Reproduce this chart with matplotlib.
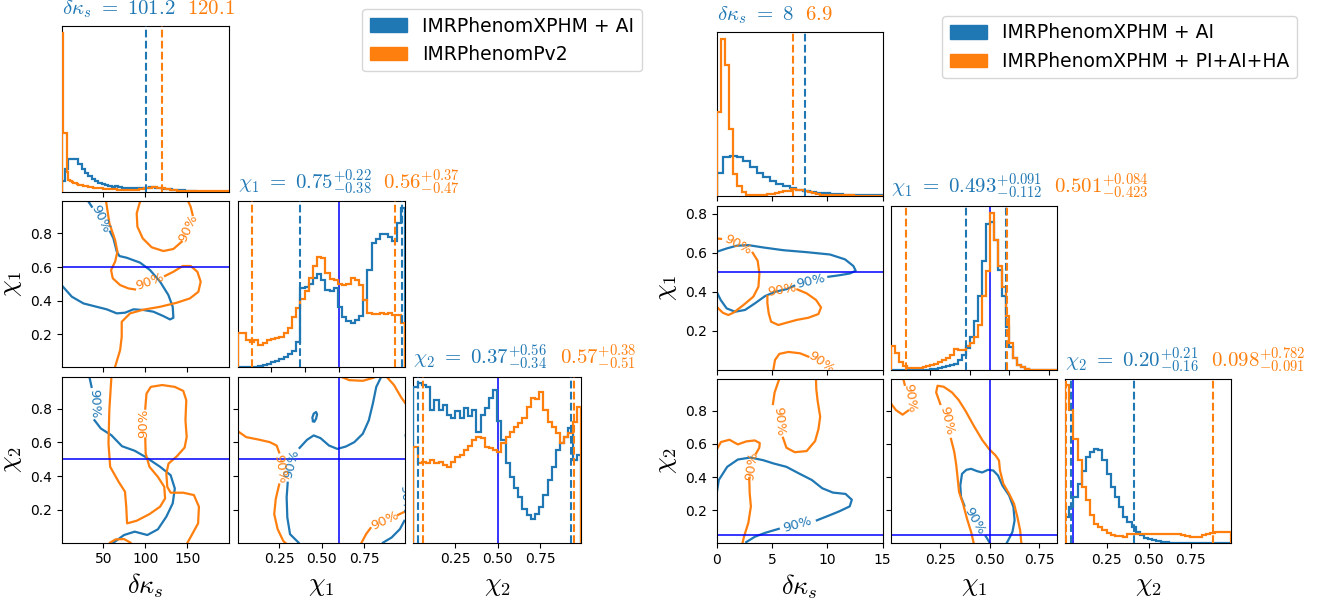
import matplotlib.pyplot as plt
from matplotlib.patches import Patch
from matplotlib.transforms import offset_copy
import numpy as np

plt.rcParams['mathtext.fontset'] = 'cm'

W, H = 1320, 600
C_BLUE, C_ORANGE, C_TRUTH = '#1f77b4', '#ff7f0e', 'blue'

names = [r'\delta\kappa_s', r'\chi_1', r'\chi_2']

# ---------------- left corner: XPHM + AI vs Pv2 ----------------
L_labels = ['IMRPhenomXPHM + AI', 'IMRPhenomPv2']
L_ranges = [(0, 200), (0.005, 0.99), (0.005, 0.99)]
L_truths = [0, 0.6, 0.5]
L_summary = [('101.2', '120.1'),
             (('0.75', '0.22', '0.38'), ('0.56', '0.37', '0.47')),
             (('0.37', '0.56', '0.34'), ('0.57', '0.38', '0.51'))]

L_dk_blue = [0.066, 0.136, 0.196, 0.2, 0.196, 0.166, 0.136, 0.116, 0.096, 0.076,
             0.066, 0.056, 0.046, 0.04, 0.036, 0.032, 0.036, 0.032, 0.026, 0.024,
             0.024, 0.022, 0.024, 0.024, 0.026, 0.026, 0.028, 0.03, 0.026, 0.022,
             0.02, 0.018, 0.016, 0.014, 0.012, 0.012, 0.01, 0.008, 0.006, 0.004,
             0.002, 0.002, 0.001, 0.001, 0.001, 0.001, 0, 0, 0, 0]
L_dk_orange = [0.956, 0.357, 0.357, 0.12, 0.075, 0.066, 0.06, 0.056, 0.052, 0.048,
               0.045, 0.042, 0.04, 0.038, 0.036, 0.034, 0.032, 0.03, 0.028, 0.027,
               0.026, 0.025, 0.024, 0.023, 0.022, 0.021, 0.02, 0.019, 0.018, 0.018,
               0.017, 0.016, 0.016, 0.015, 0.015, 0.014, 0.014, 0.013, 0.013, 0.013,
               0.012, 0.012, 0.012, 0.013, 0.014, 0.015, 0.016, 0.018, 0.02, 0.022,
               0.024, 0.025, 0.026, 0.027, 0.028, 0.028, 0.028, 0.027, 0.026, 0.025,
               0.024, 0.022, 0.02, 0.018, 0.016, 0.014, 0.012, 0.011, 0.01, 0.009,
               0.008, 0.008, 0.007, 0.007, 0.007, 0.006, 0.006, 0.006, 0.006, 0.005,
               0.005, 0.005, 0.005, 0.005, 0.005, 0.005, 0.005, 0.005, 0.005, 0.005,
               0.004, 0.004, 0.004, 0.004, 0.004, 0.004, 0.004, 0.004, 0.004, 0.004]
L_chi1_blue = [0, 0, 0, 0, 0.002, 0.006, 0.012, 0.02, 0.03, 0.038,
               0.048, 0.06, 0.078, 0.1, 0.155, 0.477, 0.483, 0.503, 0.537, 0.563,
               0.523, 0.467, 0.457, 0.477, 0.366, 0.306, 0.276, 0.266, 0.282, 0.31,
               0.406, 0.588, 0.748, 0.773, 0.805, 0.805, 0.785, 0.759, 0.87, 0.96]
L_chi1_orange = [0.209, 0.205, 0.165, 0.155, 0.165, 0.135, 0.149, 0.165, 0.169, 0.175,
                 0.185, 0.205, 0.235, 0.306, 0.356, 0.41, 0.457, 0.537, 0.612, 0.664,
                 0.658, 0.567, 0.531, 0.523, 0.503, 0.497, 0.503, 0.537, 0.523, 0.497,
                 0.406, 0.33, 0.322, 0.322, 0.33, 0.322, 0.326, 0.316, 0.316, 0.266]
L_chi2_blue = [0.94, 0.96, 0.95, 0.94, 0.8, 0.86, 0.8, 0.83, 0.77, 0.75,
               0.79, 0.75, 0.81, 0.76, 0.8, 0.668, 0.77, 0.81, 0.87, 0.92,
               0.73, 0.62, 0.477, 0.396, 0.326, 0.276, 0.205, 0.165, 0.145, 0.175,
               0.215, 0.286, 0.376, 0.457, 0.557, 0.598, 0.638, 0.688, 0.5, 0.53]
L_chi2_orange = [0.577, 0.477, 0.487, 0.48, 0.497, 0.48, 0.487, 0.467, 0.457, 0.487,
                 0.513, 0.527, 0.557, 0.58, 0.618, 0.638, 0.628, 0.573, 0.567, 0.557,
                 0.547, 0.598, 0.638, 0.668, 0.694, 0.718, 0.748, 0.819, 0.87, 0.863,
                 0.909, 0.8, 0.728, 0.694, 0.658, 0.598, 0.638, 0.658, 0.728, 0.819]

# 90% credible contours, split where the inline labels sit
L_dk_chi1_blue = [
    [(32.2, 0.988), (36.2, 0.958)],
    [(58, 0.81), (62, 0.77), (66, 0.691), (69.2, 0.665), (77.9, 0.655), (93.8, 0.626),
     (105.7, 0.582), (117.7, 0.513), (127.6, 0.434), (132.8, 0.364), (133.6, 0.299),
     (129.6, 0.289), (121.6, 0.309), (109.7, 0.335), (97.8, 0.345), (85.9, 0.349),
     (75.9, 0.329), (66, 0.325), (54, 0.349), (42, 0.364), (26.2, 0.384), (12.3, 0.424),
     (0, 0.493)]]
L_dk_chi1_blue_lbl = [(47, 0.885, -65)]
L_dk_chi1_orange = [
    [(93.8, 0.988), (89.8, 0.919), (90.6, 0.84), (97, 0.77), (107.7, 0.717), (121.6, 0.695),
     (133.6, 0.707), (143.5, 0.75)],
    [(156.6, 0.909), (154.2, 0.958), (151.4, 0.988)],
    [(53.3, 0.988), (57.2, 0.859), (64, 0.76), (66.8, 0.691), (64, 0.632), (59.2, 0.582),
     (61.2, 0.533), (70, 0.493), (79.9, 0.473), (87.8, 0.467)],
    [(123.6, 0.547), (133.6, 0.572), (144.7, 0.606), (154.2, 0.606), (162.2, 0.572),
     (166.2, 0.513), (163.4, 0.453), (153.4, 0.414), (137.5, 0.388), (117.7, 0.364),
     (97.8, 0.347), (81.9, 0.325), (71.9, 0.275), (71.9, 0.186), (70, 0.107), (64, 0.008)]]
L_dk_chi1_orange_lbl = [(151, 0.83, 65), (105.7, 0.512, 20)]

L_dk_chi2_blue = [
    [(33.3, 0.988), (35.9, 0.929)],
    [(39.4, 0.731), (47, 0.682), (59.6, 0.642), (72.2, 0.577), (87.4, 0.55), (100, 0.514),
     (117.7, 0.455), (130.3, 0.405), (135.3, 0.326), (132.8, 0.238), (125.2, 0.159),
     (115.1, 0.084), (102.5, 0.05), (87.4, 0.07), (74.7, 0.05), (62.1, 0.005)]]
L_dk_chi2_blue_lbl = [(38.5, 0.83, -88)]
L_dk_chi2_orange = [
    [(59.6, 0.988), (57.1, 0.79), (56.1, 0.593), (58.1, 0.455), (68.2, 0.366), (75.8, 0.307),
     (77.3, 0.218), (78.3, 0.119), (89.9, 0.135), (105, 0.174), (117.7, 0.218),
     (123.7, 0.267), (122.7, 0.336), (115.1, 0.395), (105, 0.455), (100.5, 0.534),
     (100, 0.623)],
    [(100, 0.8), (101.5, 0.889), (106.6, 0.929), (120.2, 0.94), (135.3, 0.929),
     (145.4, 0.905), (149, 0.85), (148, 0.731), (149.5, 0.632), (147, 0.569), (137.9, 0.518),
     (127.8, 0.474), (125.2, 0.415), (126.3, 0.336), (130.3, 0.301), (145.4, 0.301),
     (158.1, 0.287), (164.1, 0.218), (163.1, 0.119), (155.5, 0.05), (150.5, 0.005)],
    [(58.1, 0.005), (64.6, 0.024), (74.7, 0.026), (82.3, 0.005)]]
L_dk_chi2_orange_lbl = [(98, 0.712, 90)]

L_chi1_chi2_blue = [
    [(0.364, 0.005), (0.314, 0.055), (0.298, 0.154), (0.294, 0.273), (0.3, 0.36)],
    [(0.37, 0.567), (0.414, 0.615), (0.453, 0.641), (0.493, 0.625), (0.543, 0.581),
     (0.592, 0.561), (0.642, 0.575), (0.692, 0.601), (0.742, 0.651), (0.777, 0.73),
     (0.801, 0.83), (0.821, 0.929), (0.851, 0.99)],
    [(0.449, 0.726), (0.445, 0.746), (0.453, 0.77), (0.467, 0.78), (0.473, 0.766),
     (0.467, 0.74), (0.457, 0.722), (0.449, 0.726)],
    [(0.861, 0.005), (0.911, 0.035), (0.96, 0.085), (0.986, 0.134)],
    [(0.994, 0.641), (1.0, 0.611)]]
L_chi1_chi2_blue_lbl = [(0.322, 0.47, 75), (0.99, 0.26, -85)]
L_chi1_chi2_orange = [
    [(0.0, 0.671), (0.056, 0.631), (0.135, 0.615), (0.195, 0.601), (0.235, 0.581),
     (0.25, 0.54)],
    [(0.25, 0.35), (0.23, 0.264), (0.221, 0.174), (0.241, 0.085), (0.274, 0.015),
     (0.29, 0.0)],
    [(0.612, 0.99), (0.662, 0.969), (0.742, 0.965), (0.801, 0.982), (0.821, 0.99)],
    [(0.881, 0.99), (0.926, 0.939), (0.966, 0.869), (1.0, 0.82)],
    [(0.732, 0.0), (0.761, 0.055), (0.787, 0.091)],
    [(0.95, 0.17), (1.0, 0.194)]]
L_chi1_chi2_orange_lbl = [(0.258, 0.44, -80), (0.871, 0.134, 25)]

L_ticks = [[50, 100, 150], [0.2, 0.4, 0.6, 0.8], [0.2, 0.4, 0.6, 0.8]]
L_bottom = [[50, 100, 150], [0.25, 0.5, 0.75], [0.25, 0.5, 0.75]]
L_bottom_txt = [['50', '100', '150'], ['0.25', '0.50', '0.75'], ['0.25', '0.50', '0.75']]

# ---------------- right corner: XPHM + AI vs XPHM + PI+AI+HA ----------------
R_labels = ['IMRPhenomXPHM + AI', 'IMRPhenomXPHM + PI+AI+HA']
R_ranges = [(0, 15), (0, 0.84), (0.003, 0.99)]
R_truths = [0, 0.5, 0.05]
R_summary = [('8', '6.9'),
             (('0.493', '0.091', '0.112'), ('0.501', '0.084', '0.423')),
             (('0.20', '0.21', '0.16'), ('0.098', '0.782', '0.091'))]

R_dk_blue = [0.141, 0.239, 0.243, 0.239, 0.214, 0.178, 0.141, 0.116, 0.096, 0.076,
             0.061, 0.049, 0.041, 0.035, 0.027, 0.02, 0.018, 0.014, 0.012, 0.01,
             0.008, 0.006, 0.006, 0.006, 0.006]
R_dk_orange = [0.514, 0.957, 0.8, 0.41, 0.137, 0.06, 0.024, 0.008, 0.008, 0.008,
               0.008, 0.008, 0.012, 0.016, 0.022, 0.026, 0.03, 0.034, 0.043, 0.04,
               0.036, 0.03, 0.024, 0.018, 0.014, 0.01, 0.008, 0.007, 0.006, 0.006,
               0.005, 0.005, 0.005, 0.004, 0.004, 0.004, 0.004, 0.004, 0.004, 0.004]
R_chi1_blue = [0, 0, 0, 0, 0, 0, 0, 0, 0, 0,
               0.006, 0.006, 0.01, 0.014, 0.02, 0.026, 0.036, 0.06, 0.09, 0.13,
               0.2, 0.3, 0.45, 0.66, 0.89, 0.9, 0.79, 0.61, 0.45, 0.26,
               0.14, 0.07, 0.03, 0.014, 0.006, 0, 0, 0, 0, 0, 0, 0]
R_chi1_orange = [0.142, 0.1, 0.05, 0.02, 0.01, 0.01, 0.01, 0.01, 0.014, 0.02,
                 0.026, 0.036, 0.045, 0.057, 0.069, 0.091, 0.126, 0.118, 0.122, 0.142,
                 0.16, 0.2, 0.27, 0.45, 0.6, 0.957, 0.79, 0.63, 0.507, 0.325,
                 0.162, 0.071, 0.03, 0.014, 0.006, 0, 0, 0, 0, 0, 0, 0]
R_chi2_blue = [0.159, 0.22, 0.28, 0.36, 0.44, 0.525, 0.556, 0.576, 0.566, 0.505,
               0.424, 0.342, 0.28, 0.22, 0.159, 0.128, 0.098, 0.067, 0.047, 0.033,
               0.022, 0.016, 0.012, 0.008, 0.006, 0.002, 0.002, 0, 0, 0,
               0, 0, 0, 0, 0, 0, 0, 0, 0, 0]
R_chi2_orange = [0.963, 0.81, 0.637, 0.505, 0.342, 0.26, 0.169, 0.118, 0.098, 0.077,
                 0.061, 0.047, 0.043, 0.041, 0.037, 0.057, 0.057, 0.053, 0.053, 0.053,
                 0.053, 0.053, 0.053, 0.053, 0.053, 0.053, 0.053, 0.053, 0.05, 0.045,
                 0.04, 0.037, 0.037, 0.047, 0.057, 0.061, 0.067, 0.067, 0.067, 0.067]

R_dk_chi1_blue = [
    [(0, 0.604), (0.904, 0.621), (1.807, 0.635), (2.861, 0.638), (4.217, 0.626),
     (6.024, 0.612), (8.132, 0.602), (10.24, 0.59), (11.6, 0.565), (12.35, 0.531),
     (12.56, 0.507), (12.05, 0.493), (10.99, 0.483), (10.09, 0.476)],
    [(7.0, 0.43), (6.33, 0.413), (5.27, 0.399), (4.37, 0.377), (3.46, 0.34), (2.56, 0.306),
     (1.66, 0.297), (0.9, 0.314), (0.36, 0.357), (0, 0.399)]]
R_dk_chi1_blue_lbl = [(8.5, 0.455, 13)]
R_dk_chi1_orange = [
    [(0, 0.672), (0.39, 0.67)],
    [(3.25, 0.599), (3.7, 0.558), (3.86, 0.493), (3.77, 0.425), (3.31, 0.374), (2.41, 0.331),
     (1.51, 0.292), (1.05, 0.28), (0.54, 0.292), (0.15, 0.314), (0, 0.323)],
    [(7.29, 0.411), (8.13, 0.391), (8.98, 0.357), (9.43, 0.319), (9.19, 0.285),
     (8.28, 0.266), (7.23, 0.255), (6.33, 0.241), (5.57, 0.229), (4.91, 0.246), (4.7, 0.289),
     (4.58, 0.34), (4.58, 0.377)],
    [(5.12, 0.0), (5.27, 0.05), (5.66, 0.081), (6.48, 0.091), (7.53, 0.084), (8.28, 0.067)]]
R_dk_chi1_orange_lbl = [(1.9, 0.642, -28), (5.9, 0.41, 10), (9.4, 0.036, -35)]

R_dk_chi2_blue = [
    [(0, 0.303), (0.19, 0.383), (0.95, 0.462), (1.91, 0.506), (3.05, 0.518), (4.2, 0.502),
     (5.15, 0.482), (6.3, 0.462), (7.44, 0.422), (8.59, 0.383), (9.54, 0.333), (10.5, 0.307),
     (11.64, 0.299), (12.21, 0.264), (12.02, 0.224), (11.07, 0.194), (10.11, 0.168),
     (9.05, 0.14)],
    [(5.61, 0.089), (4.39, 0.065), (3.44, 0.041), (2.67, 0.009)]]
R_dk_chi2_blue_lbl = [(7.3, 0.116, 16)]
R_dk_chi2_orange = [
    [(0, 0.565), (0.38, 0.611), (1.15, 0.625), (1.91, 0.597), (2.67, 0.615), (3.44, 0.621),
     (3.89, 0.605), (3.85, 0.577), (3.55, 0.542)],
    [(2.94, 0.393), (2.98, 0.303), (3.09, 0.224), (2.86, 0.125), (2.48, 0.045), (2.33, 0.003)],
    [(5.65, 0.99), (5.23, 0.909), (5.08, 0.84)],
    [(5.99, 0.637), (6.3, 0.577), (7.06, 0.55), (8.13, 0.557), (8.89, 0.617), (9.2, 0.69),
     (9.35, 0.764), (9.12, 0.859), (9.0, 0.929), (8.97, 0.99)]]
R_dk_chi2_orange_lbl = [(3.13, 0.466, 82), (5.6, 0.735, -85)]

R_chi1_chi2_blue = [
    [(0.501, 0.003), (0.48, 0.044)],
    [(0.372, 0.228), (0.355, 0.28), (0.351, 0.35), (0.36, 0.42), (0.382, 0.444),
     (0.406, 0.45), (0.436, 0.436), (0.462, 0.428), (0.491, 0.444), (0.518, 0.44),
     (0.542, 0.41), (0.564, 0.35), (0.598, 0.29), (0.62, 0.22), (0.626, 0.14), (0.615, 0.07),
     (0.598, 0.03), (0.586, 0.003)]]
R_chi1_chi2_blue_lbl = [(0.424, 0.138, -60)]
R_chi1_chi2_orange = [
    [(0.063, 0.99), (0.07, 0.956)],
    [(0.087, 0.8), (0.059, 0.776), (0.025, 0.804), (0.0, 0.844)],
    [(0.419, 0.003), (0.406, 0.07), (0.385, 0.15), (0.365, 0.24), (0.345, 0.31),
     (0.338, 0.39), (0.331, 0.47), (0.321, 0.55), (0.304, 0.63)],
    [(0.25, 0.84), (0.229, 0.91), (0.236, 0.95), (0.267, 0.944), (0.309, 0.91),
     (0.343, 0.864), (0.377, 0.8), (0.419, 0.71), (0.462, 0.624), (0.496, 0.57),
     (0.53, 0.53), (0.547, 0.5), (0.552, 0.44), (0.569, 0.36), (0.598, 0.3), (0.623, 0.24),
     (0.64, 0.16), (0.654, 0.08), (0.66, 0.003)]]
R_chi1_chi2_orange_lbl = [(0.095, 0.875, -82), (0.28, 0.74, -78)]

R_ticks = [[0, 5, 10, 15], [0.2, 0.4, 0.6, 0.8], [0.2, 0.4, 0.6, 0.8]]
R_bottom = [[0, 5, 10, 15], [0.25, 0.5, 0.75], [0.25, 0.5, 0.75]]
R_bottom_txt = [['0', '5', '10', '15'], ['0.25', '0.50', '0.75'], ['0.25', '0.50', '0.75']]


def bounds(s):
    # a single string is an upper bound, a triple is median, +err, -err
    if isinstance(s, str):
        return [float(s)]
    m, hi, lo = s
    return [float(m) - float(lo), float(m) + float(hi)]


def as_tex(s):
    if isinstance(s, str):
        return s
    m, hi, lo = s
    return f'{m}^{{+{hi}}}_{{-{lo}}}'


def title(fig, ax, name, summary):
    y = 1 + 12.0 / ax.bbox.height
    t = ax.text(0, y, rf'${name}\ =\ {as_tex(summary[0])}$', transform=ax.transAxes,
                color=C_BLUE, fontsize=15, ha='left', va='baseline')
    w = t.get_window_extent(renderer=fig.canvas.get_renderer()).width
    ax.text(0, y, f'${as_tex(summary[1])}$', color=C_ORANGE, fontsize=15,
            ha='left', va='baseline',
            transform=offset_copy(ax.transAxes, fig=fig, x=w + 12, units='dots'))


def corner(fig, origin, step, size, ranges, truths, hists, summary, contours,
           ticks, bottom, bottom_txt):
    x0, y0 = origin
    sx, sy = step
    w, h = size
    n = len(ranges)
    for r in range(n):
        for c in range(r + 1):
            left, top = x0 + c * sx, y0 + r * sy
            ax = fig.add_axes([left / W, 1 - (top + h) / H, w / W, h / H])
            ax.tick_params(labelsize=10)
            ax.set_xlim(ranges[c])
            if r == c:
                ax.axvline(truths[c], color=C_TRUTH, lw=1.1, zorder=0.5)
                for heights, color in zip(hists[c], (C_BLUE, C_ORANGE)):
                    edges = np.linspace(ranges[c][0], ranges[c][1], len(heights) + 1)
                    ax.stairs(heights, edges, color=color, lw=1.6, zorder=3)
                for s, color in zip(summary[c], (C_BLUE, C_ORANGE)):
                    for v in bounds(s):
                        ax.axvline(v, color=color, ls='--', lw=1.5, zorder=3.1)
                ax.set_ylim(0, 1)
                ax.set_yticks([])
                title(fig, ax, names[c], summary[c])
            else:
                for segs, lbls, color in contours[(r, c)]:
                    for seg in segs:
                        xs, ys = zip(*seg)
                        ax.plot(xs, ys, color=color, lw=1.6)
                    for x, y, rot in lbls:
                        ax.text(x, y, '90%', color=color, fontsize=9.5, rotation=rot,
                                ha='center', va='center', rotation_mode='anchor', clip_on=True)
                ax.axvline(truths[c], color=C_TRUTH, lw=1.1)
                ax.axhline(truths[r], color=C_TRUTH, lw=1.1)
                ax.set_ylim(ranges[r])
                ax.set_yticks(ticks[r])
                if c == 0:
                    ax.set_yticklabels([f'{t:g}' for t in ticks[r]])
                    ax.set_ylabel(f'${names[r]}$', fontsize=19)
                else:
                    ax.set_yticklabels([])
            if r == n - 1:
                ax.set_xticks(bottom[c], bottom_txt[c])
                ax.set_xlabel(f'${names[c]}$', fontsize=19)
            else:
                ax.set_xticks(ticks[c])
                ax.set_xticklabels([])


fig = plt.figure(figsize=(W / 100, H / 100), dpi=100)

corner(fig, (61.5, 26), (176, 175.3), (167.5, 166), L_ranges, L_truths,
       [(L_dk_blue, L_dk_orange), (L_chi1_blue, L_chi1_orange), (L_chi2_blue, L_chi2_orange)],
       L_summary,
       {(1, 0): [(L_dk_chi1_blue, L_dk_chi1_blue_lbl, C_BLUE),
                 (L_dk_chi1_orange, L_dk_chi1_orange_lbl, C_ORANGE)],
        (2, 0): [(L_dk_chi2_blue, L_dk_chi2_blue_lbl, C_BLUE),
                 (L_dk_chi2_orange, L_dk_chi2_orange_lbl, C_ORANGE)],
        (2, 1): [(L_chi1_chi2_blue, L_chi1_chi2_blue_lbl, C_BLUE),
                 (L_chi1_chi2_orange, L_chi1_chi2_orange_lbl, C_ORANGE)]},
       L_ticks, L_bottom, L_bottom_txt)

corner(fig, (716.7, 32.3), (174.2, 173.4), (166, 164), R_ranges, R_truths,
       [(R_dk_blue, R_dk_orange), (R_chi1_blue, R_chi1_orange), (R_chi2_blue, R_chi2_orange)],
       R_summary,
       {(1, 0): [(R_dk_chi1_blue, R_dk_chi1_blue_lbl, C_BLUE),
                 (R_dk_chi1_orange, R_dk_chi1_orange_lbl, C_ORANGE)],
        (2, 0): [(R_dk_chi2_blue, R_dk_chi2_blue_lbl, C_BLUE),
                 (R_dk_chi2_orange, R_dk_chi2_orange_lbl, C_ORANGE)],
        (2, 1): [(R_chi1_chi2_blue, R_chi1_chi2_blue_lbl, C_BLUE),
                 (R_chi1_chi2_orange, R_chi1_chi2_orange_lbl, C_ORANGE)]},
       R_ticks, R_bottom, R_bottom_txt)

for labels, anchor in ((L_labels, (362 / W, 1 - 9 / H)), (R_labels, (942 / W, 1 - 16 / H))):
    handles = [Patch(color=C_BLUE, label=labels[0]), Patch(color=C_ORANGE, label=labels[1])]
    fig.legend(handles=handles, loc='upper left', bbox_to_anchor=anchor,
               borderaxespad=0, fontsize=13.5)

fig.savefig('out.png', dpi=100, facecolor='white')
